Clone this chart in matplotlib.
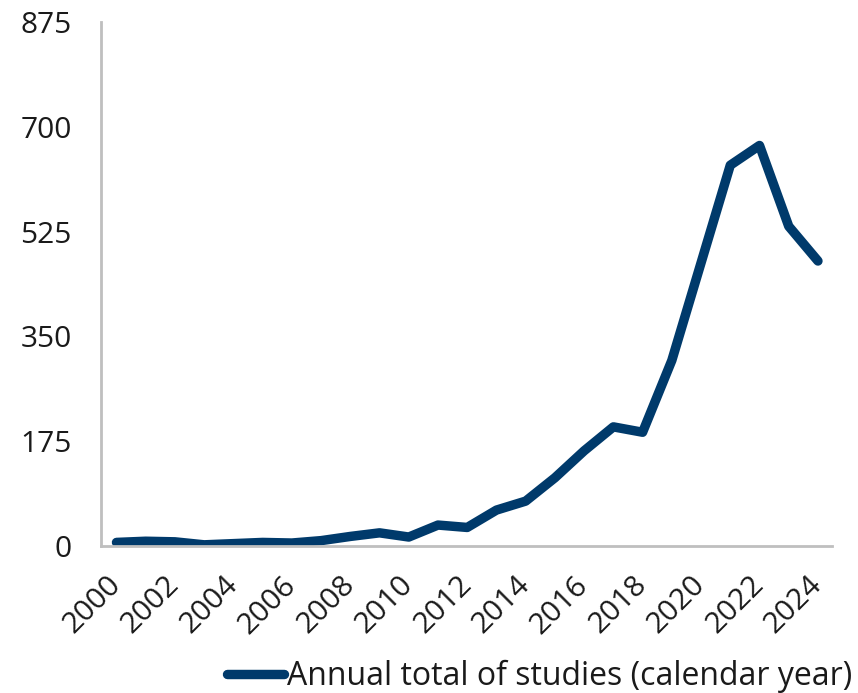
import numpy as np
import matplotlib
matplotlib.use("Agg")
from matplotlib import pyplot as plt

# Annual study counts
years = list(range(2000, 2025))
studies = [6, 8, 7, 2, 4, 6, 5, 9, 16, 22, 15, 35, 31, 60, 75, 114, 159, 199, 190,
           310, 473, 636, 669, 534, 476]
tick_years = list(range(2000, 2025, 2))
y_ticks = [0, 175, 350, 525, 700, 875]
series_label = "Annual total of studies (calendar year)"

NAVY = "#003A6B"
GREY = "#BFBFBF"
INK = "#1A1A1A"

plt.rcParams["font.family"] = ["Open Sans", "DejaVu Sans"]


def main():
    fig = plt.figure(figsize=(8.58, 6.93), dpi=100)
    ax = fig.add_axes([0.1177, 0.2121, 0.852, 0.756])

    ax.plot(years, studies, color=NAVY, lw=6.8, solid_capstyle="round",
            solid_joinstyle="round", label=series_label)

    ax.set_xlim(1999.47, 2024.48)
    ax.set_ylim(0, 875)
    ax.set_yticks(y_ticks)
    ax.set_xticks(tick_years)
    ax.set_xticklabels([str(y) for y in tick_years], rotation=45, ha="right",
                       va="center", rotation_mode="anchor")

    for side in ("top", "right"):
        ax.spines[side].set_visible(False)
    for side in ("left", "bottom"):
        ax.spines[side].set_color(GREY)
        ax.spines[side].set_linewidth(2)

    ax.tick_params(axis="both", length=0, labelsize=21.5, labelcolor=INK)
    ax.tick_params(axis="y", pad=21)
    ax.tick_params(axis="x", pad=25)

    leg = fig.legend(loc="center right", bbox_to_anchor=(0.993, 0.024),
                     frameon=False, fontsize=23, handlelength=1.78,
                     handletextpad=0.08, borderpad=0, borderaxespad=0)
    for t in leg.get_texts():
        t.set_color(INK)

    fig.savefig("out.png", dpi=100)


if __name__ == "__main__":
    main()
